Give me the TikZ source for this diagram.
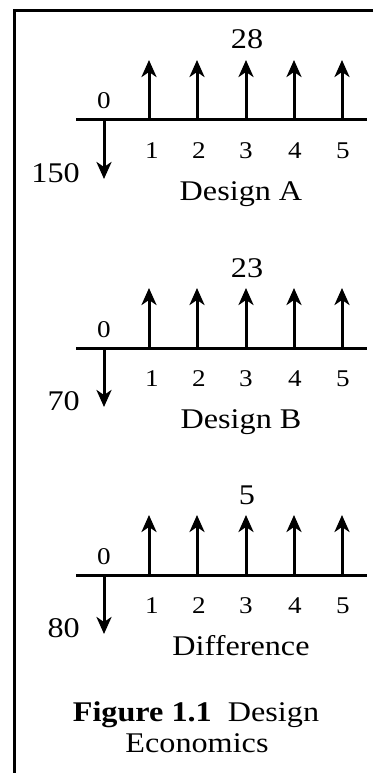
\documentclass[tikz,border=0pt]{standalone}
\usepackage{fontspec}
\setmainfont[FakeStretch=1.13]{Liberation Serif}
\usetikzlibrary{arrows.meta}
\begin{document}
\begin{tikzpicture}[x=1pt,y=-1pt,
  frame/.style={line width=3pt},
  axisline/.style={line width=3pt},
  flow/.style={line width=3pt,-{Stealth[length=17pt,width=15pt,inset=5pt]}},
  big/.style={font=\fontsize{28.5}{33}\selectfont, inner sep=0pt, anchor=base},
  small/.style={font=\fontsize{24}{28}\selectfont, inner sep=0pt, anchor=base}]
\useasboundingbox (0,0) rectangle (373,773);
\coordinate (fTL) at (14.5,10.5);
\coordinate (fTR) at (373,10.5);
\coordinate (fBL) at (14.5,773);
\draw[frame] (fTR) -- (fTL) -- (fBL);
\foreach \n/\y/\amt/\neg/\name in {A/120/28/150/Design A, B/348/23/70/Design B, C/575/5/80/Difference}{
  \coordinate (\n-L) at (76,\y);
  \coordinate (\n-R) at (367,\y);
  \draw[axisline] (\n-L) -- (\n-R);
  \coordinate (\n-0) at (104,\y);
  \coordinate (\n-d) at (104,\y+59);
  \draw[flow] (\n-0) -- (\n-d);
  \node[small] (\n-t0) at (104,\y-11) {0};
  \foreach \i/\x/\lx in {1/149/152,2/197/199,3/246/246,4/294/295,5/342/343}{
    \coordinate (\n-p\i) at (\x,\y);
    \coordinate (\n-u\i) at (\x,\y-60);
    \draw[flow] (\n-p\i) -- (\n-u\i);
    \node[small] (\n-t\i) at (\lx,\y+38) {\i};
  }
  \node[big] (\n-amt) at (247,\y-71) {\amt};
  \node[big,anchor=base east] (\n-neg) at (80,\y+62) {\neg};
  \node[big] (\n-name) at (241,\y+80) {\name};
}
\node[big] (cap1) at (196,721) {\textbf{Figure 1.1}\ \ Design};
\node[big] (cap2) at (197,752) {Economics};
\end{tikzpicture}
\end{document}
